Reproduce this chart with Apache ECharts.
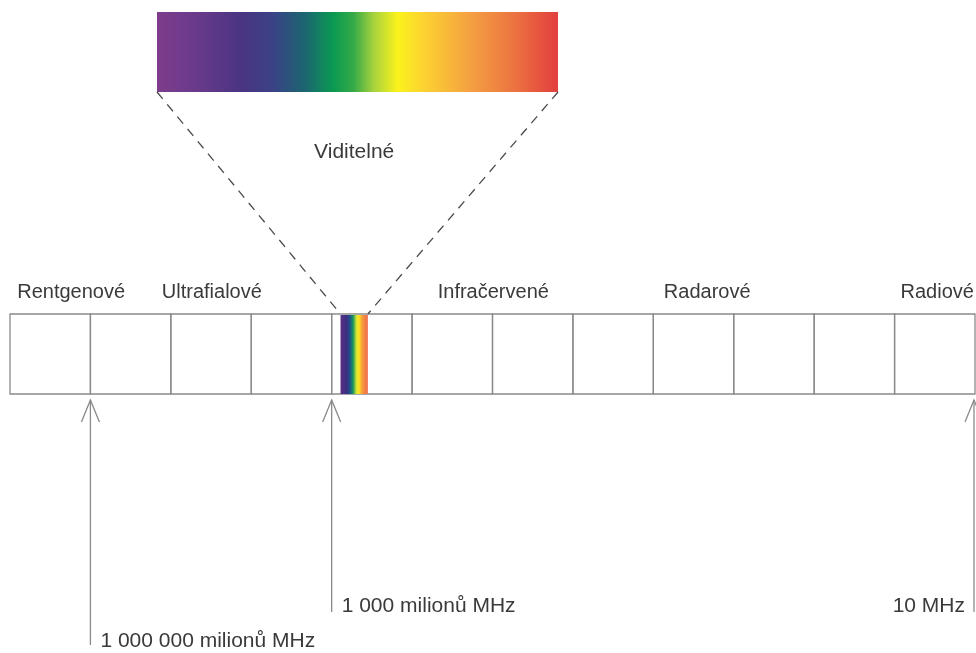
<!DOCTYPE html>
<html><head><meta charset="utf-8">
<script src="https://cdn.jsdelivr.net/npm/echarts@6/dist/echarts.min.js"></script>
<style>html,body{margin:0;padding:0;background:#fff}#c{width:976px;height:653px}</style>
</head><body><div id="c"></div>
<script>
// Cell boundaries on the frequency axis, in log10(MHz) (one cell = one decade)
const decades = [13, 12, 11, 10, 9, 8, 7, 6, 5, 4, 3, 2, 1];
// Band names and where their labels sit on the axis (log10 MHz)
const bandNames = ['Rentgenové', 'Ultrafialové', 'Infračervené', 'Radarové', 'Radiové'];
const bandLabelAt = [12.24, 10.49, 6.99, 4.33, 1.47];
// Visible light band (log10 MHz, violet edge -> red edge)
const visibleName = 'Viditelné';
const visibleRange = [8.89, 8.55];
// Frequency markers (log10 MHz) and their labels
const markerExp = [12, 9, 1];
const markerLabels = ['1 000 000 milionů MHz', '1 000 milionů MHz', '10 MHz'];

const FONT = '"Liberation Sans", Arial, Helvetica, sans-serif';
const TEXT = '#3a3a3a';
const LINE = '#8a8a8a';
const FS = 20;
const FS2 = 21;

const bigStops = [
  {offset: 0.00, color: '#7e3c8c'},
  {offset: 0.10, color: '#693a8b'},
  {offset: 0.21, color: '#4a3482'},
  {offset: 0.29, color: '#3a4286'},
  {offset: 0.37, color: '#1b6670'},
  {offset: 0.44, color: '#0b9a52'},
  {offset: 0.49, color: '#34aa48'},
  {offset: 0.54, color: '#a6d23e'},
  {offset: 0.60, color: '#fbf21c'},
  {offset: 0.67, color: '#fcd032'},
  {offset: 0.78, color: '#f4a142'},
  {offset: 0.89, color: '#ec7440'},
  {offset: 1.00, color: '#e23e3e'}
];
const smallStops = [
  {offset: 0.00, color: '#5a2f86'},
  {offset: 0.22, color: '#3b2f80'},
  {offset: 0.34, color: '#1d4f8a'},
  {offset: 0.46, color: '#17985a'},
  {offset: 0.58, color: '#cfe23a'},
  {offset: 0.66, color: '#fbe81e'},
  {offset: 0.80, color: '#f59a3c'},
  {offset: 1.00, color: '#ee6a50'}
];

const chart = echarts.init(document.getElementById('c'), null, {renderer: 'canvas'});

const option = {
  animation: false,
  backgroundColor: '#ffffff',
  grid: {left: 10, right: 1, top: 314, height: 80},
  xAxis: {type: 'value', min: 1, max: 13, inverse: true, show: false},
  yAxis: {type: 'value', min: 0, max: 1, show: false},
  series: [
    {
      // decade cells of the band
      type: 'custom',
      clip: false,
      data: decades.slice(0, -1).map((d, i) => [d, decades[i + 1]]),
      renderItem: function (params, api) {
        const a = api.coord([api.value(0), 1]);
        const b = api.coord([api.value(1), 0]);
        return {
          type: 'rect',
          shape: {x: Math.min(a[0], b[0]), y: a[1], width: Math.abs(b[0] - a[0]), height: b[1] - a[1]},
          style: {fill: 'none', stroke: LINE, lineWidth: 1.3}
        };
      }
    },
    {
      // visible band + magnified spectrum
      type: 'custom',
      clip: false,
      data: [visibleRange],
      renderItem: function (params, api) {
        const a = api.coord([api.value(0), 1]);
        const b = api.coord([api.value(1), 0]);
        const box = {x: 157, y: 12, w: 401, h: 80};
        return {
          type: 'group',
          children: [
            {type: 'rect', shape: {x: a[0], y: a[1] + 1, width: b[0] - a[0], height: b[1] - a[1] - 1},
              style: {fill: new echarts.graphic.LinearGradient(0, 0, 1, 0, smallStops)}},
            {type: 'rect', shape: {x: box.x, y: box.y, width: box.w, height: box.h},
              style: {fill: new echarts.graphic.LinearGradient(0, 0, 1, 0, bigStops)}},
            {type: 'line', shape: {x1: box.x, y1: box.y + box.h, x2: a[0], y2: a[1]},
              style: {stroke: '#4a4a4a', lineWidth: 1.3, lineDash: [9, 7]}},
            {type: 'line', shape: {x1: box.x + box.w, y1: box.y + box.h, x2: b[0], y2: a[1]},
              style: {stroke: '#4a4a4a', lineWidth: 1.3, lineDash: [9, 7]}},
            {type: 'text', style: {text: visibleName, x: (a[0] + b[0]) / 2, y: 152,
              align: 'center', verticalAlign: 'middle', fill: TEXT, fontSize: FS2, fontFamily: FONT}}
          ]
        };
      }
    },
    {
      // band names
      type: 'custom',
      clip: false,
      data: bandLabelAt.map(v => [v, 1]),
      renderItem: function (params, api) {
        const p = api.coord([api.value(0), api.value(1)]);
        return {type: 'text', style: {text: bandNames[params.dataIndex], x: p[0], y: p[1] - 22,
          align: 'center', verticalAlign: 'middle', fill: TEXT, fontSize: FS, fontFamily: FONT}};
      }
    },
    {
      // frequency markers
      type: 'custom',
      clip: false,
      data: markerExp.map(v => [v, 0]),
      renderItem: function (params, api) {
        const p = api.coord([api.value(0), api.value(1)]);
        const i = params.dataIndex;
        const x = Math.min(p[0], 974);
        const tip = p[1] + 6;
        const end = i === 0 ? 645 : 612;
        const labelY = i === 0 ? 641 : 606;
        const right = i === markerExp.length - 1;
        return {
          type: 'group',
          children: [
            {type: 'line', shape: {x1: x, y1: tip, x2: x, y2: end}, style: {stroke: LINE, lineWidth: 1.3}},
            {type: 'polyline', shape: {points: [[x - 9, tip + 22], [x, tip], [x + 9, tip + 22]]},
              style: {fill: 'none', stroke: LINE, lineWidth: 1.3}},
            {type: 'text', style: {text: markerLabels[i], x: right ? x - 9 : x + 10, y: labelY,
              align: right ? 'right' : 'left', verticalAlign: 'middle', fill: TEXT, fontSize: FS2, fontFamily: FONT}}
          ]
        };
      }
    }
  ]
};
chart.setOption(option);
</script>
</body></html>
